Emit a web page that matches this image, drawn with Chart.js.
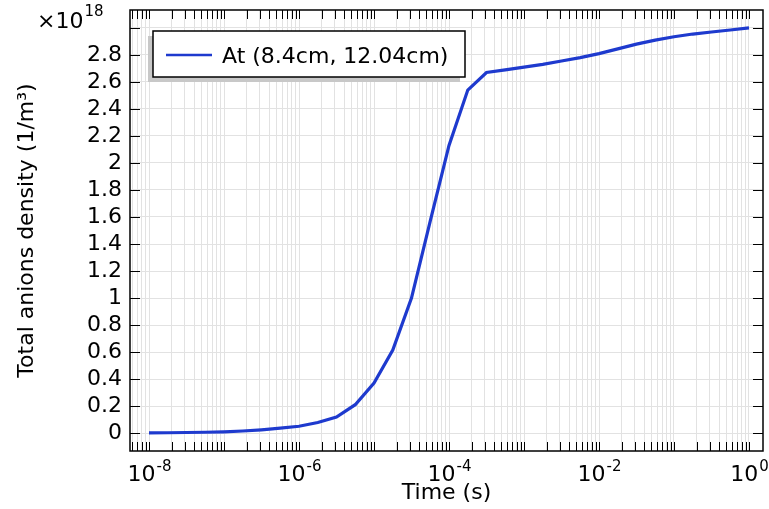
<!DOCTYPE html>
<html><head><meta charset="utf-8">
<script src="https://cdn.jsdelivr.net/npm/chart.js@4/dist/chart.umd.min.js"></script>
<style>html,body{margin:0;padding:0;background:#fff}#wrap{width:769px;height:509px}</style>
</head><body><div id="wrap"><canvas id="c" width="769" height="509"></canvas></div>
<script>
// ---- data (density in units of 1e18 1/m^3) ----
const seriesLabel = 'At (8.4cm, 12.04cm)';
const times = [1e-8,1.78e-8,3.16e-8,5.62e-8,1e-7,1.78e-7,3.16e-7,5.62e-7,1e-6,1.78e-6,3.16e-6,5.62e-6,1e-5,1.78e-5,3.16e-5,5.62e-5,1e-4,1.78e-4,3.16e-4,5.62e-4,1e-3,1.78e-3,3.16e-3,5.62e-3,1e-2,1.78e-2,3.16e-2,5.62e-2,1e-1,1.78e-1,3.16e-1,5.62e-1,1];
const density = [0.001,0.002,0.004,0.006,0.009,0.015,0.024,0.036,0.05,0.078,0.118,0.21,0.37,0.615,1.0,1.57,2.13,2.54,2.67,2.69,2.71,2.73,2.755,2.78,2.81,2.845,2.88,2.91,2.935,2.955,2.97,2.985,3.0];
const yTickValues = [0,0.2,0.4,0.6,0.8,1,1.2,1.4,1.6,1.8,2,2.2,2.4,2.6,2.8,3];
const yTickLabels = ['0','0.2','0.4','0.6','0.8','1','1.2','1.4','1.6','1.8','2','2.2','2.4','2.6','2.8',''];
const xDecadeValues = [1e-8,1e-6,1e-4,1e-2,1];
const xDecadeExponents = ['-8','-6','-4','-2','0'];
const yMultiplierExp = '18';

const FONT = "'DejaVu Sans', sans-serif";
const LINE_COLOR = 'rgb(30,58,206)';
const GRID_COLOR = 'rgb(226,226,226)';

const decor = {
  id: 'decor',
  afterDraw(chart) {
    const ctx = chart.ctx, a = chart.chartArea;
    const xs = chart.scales.x, ys = chart.scales.y;
    ctx.save();
    // ticks (inward)
    ctx.strokeStyle = '#000'; ctx.lineWidth = 1;
    ctx.beginPath();
    xs.ticks.forEach(t => {
      const px = Math.round(xs.getPixelForValue(t.value)) + 0.5;
      if (px < a.left || px > a.right) return;
      const len = 9;
      ctx.moveTo(px, a.bottom); ctx.lineTo(px, a.bottom - len);
      ctx.moveTo(px, a.top); ctx.lineTo(px, a.top + len);
    });
    yTickValues.forEach(v => {
      const py = Math.round(ys.getPixelForValue(v)) + 0.5;
      ctx.moveTo(a.left, py); ctx.lineTo(a.left + 10, py);
      ctx.moveTo(a.right, py); ctx.lineTo(a.right - 10, py);
    });
    ctx.stroke();
    // frame
    ctx.lineWidth = 1.5;
    ctx.strokeRect(a.left, a.top, a.right - a.left, a.bottom - a.top);
    // x decade labels
    ctx.fillStyle = '#000';
    ctx.textBaseline = 'alphabetic';
    ctx.textAlign = 'left';
    xDecadeValues.forEach((v, i) => {
      const px = xs.getPixelForValue(v);
      ctx.font = '22px ' + FONT;
      const w1 = ctx.measureText('10').width;
      ctx.font = '15px ' + FONT;
      const w2 = ctx.measureText(xDecadeExponents[i]).width;
      const x0 = px - (w1 + w2) / 2;
      ctx.font = '22px ' + FONT;
      ctx.fillText('10', x0, 481);
      ctx.font = '15px ' + FONT;
      ctx.fillText(xDecadeExponents[i], x0 + w1 + 1, 471);
    });
    // multiplier
    ctx.font = '22px ' + FONT;
    ctx.fillText('\u00d710', 37, 28);
    const wm = ctx.measureText('\u00d710').width;
    ctx.font = '15px ' + FONT;
    ctx.fillText(yMultiplierExp, 37 + wm + 1, 16);
    // legend
    const bx = 153, by = 31, bw = 312, bh = 46;
    ctx.fillStyle = 'rgb(200,200,200)';
    ctx.fillRect(bx - 5, by + 5, bw, bh);
    ctx.fillStyle = '#fff';
    ctx.fillRect(bx, by, bw, bh);
    ctx.strokeStyle = '#000'; ctx.lineWidth = 1.5;
    ctx.strokeRect(bx, by, bw, bh);
    ctx.strokeStyle = LINE_COLOR; ctx.lineWidth = 2.5;
    ctx.beginPath(); ctx.moveTo(166, 55); ctx.lineTo(212, 55); ctx.stroke();
    ctx.fillStyle = '#000';
    ctx.font = '22px ' + FONT;
    ctx.fillText(chart.data.datasets[0].label, 222, 63);
    ctx.restore();
  }
};

new Chart(document.getElementById('c'), {
  type: 'line',
  data: {
    datasets: [{
      label: seriesLabel,
      data: times.map((t, i) => ({x: t, y: density[i]})),
      borderColor: LINE_COLOR,
      borderWidth: 3.2,
      pointRadius: 0,
      tension: 0,
      fill: false
    }]
  },
  options: {
    responsive: false,
    devicePixelRatio: 1,
    animation: false,
    layout: {padding: {top: 10, right: 6, left: 0, bottom: 0}},
    plugins: {legend: {display: false}, tooltip: {enabled: false}},
    scales: {
      x: {
        type: 'logarithmic',
        min: 5.58e-9, max: 1.537,
        afterBuildTicks(s) {
          const t = [];
          for (let e = -9; e <= 0; e++) for (let m = 1; m <= 9; m++) {
            const v = m * Math.pow(10, e);
            if (v >= s.min && v <= s.max) t.push({value: v, major: m === 1});
          }
          s.ticks = t;
        },
        afterFit(s) { s.height = 58; s.paddingLeft = 0; s.paddingRight = 0; },
        ticks: {display: false},
        grid: {color: GRID_COLOR, lineWidth: 1, drawTicks: false},
        border: {display: false},
        title: {display: true, text: 'Time (s)', color: '#000', font: {family: FONT, size: 22}, padding: {top: 0, bottom: 3}}
      },
      y: {
        min: -0.133, max: 3.133,
        afterBuildTicks(s) { s.ticks = yTickValues.map(v => ({value: v})); },
        afterFit(s) { s.width = 130; s.paddingTop = 0; s.paddingBottom = 0; },
        ticks: {
          color: '#000', font: {family: FONT, size: 22}, padding: 8,
          callback: (v, i) => yTickLabels[i]
        },
        grid: {color: GRID_COLOR, lineWidth: 1, drawTicks: false},
        border: {display: false},
        title: {display: true, text: 'Total anions density (1/m\u00b3)', color: '#000', font: {family: FONT, size: 22}, padding: {top: 14, bottom: 0}}
      }
    }
  },
  plugins: [decor]
});
</script>
</body></html>
